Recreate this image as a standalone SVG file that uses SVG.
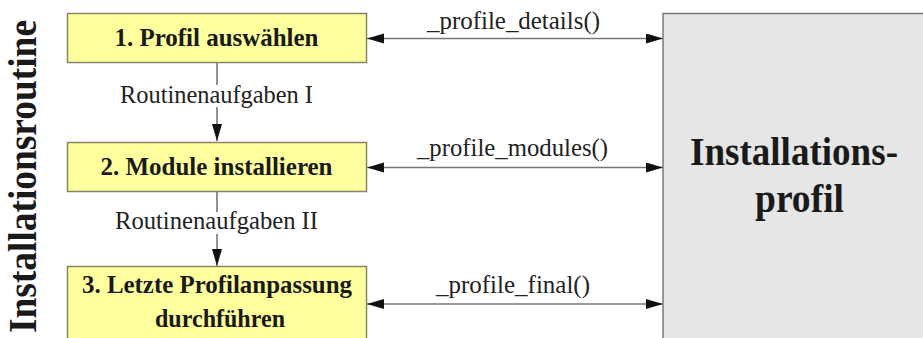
<svg xmlns="http://www.w3.org/2000/svg" width="923" height="338" viewBox="0 0 923 338">
<style>
.box{fill:#ffff9e;stroke:#85856a;stroke-width:1.5}
.prof{fill:#e6e6e6;stroke:#7a7a7a;stroke-width:1.5}
.bt{font-family:"Liberation Serif",serif;font-weight:bold;font-size:26px;fill:#1a1a1a;text-anchor:middle}
.lt{font-family:"Liberation Serif",serif;font-size:25px;fill:#222}
.big{font-family:"Liberation Serif",serif;font-weight:bold;font-size:39px;fill:#1a1a1a}
.ln{fill:none;stroke:#777;stroke-width:1.6}
</style>
<defs>
<marker id="ah" markerUnits="userSpaceOnUse" markerWidth="18" markerHeight="12" refX="17" refY="5" orient="auto-start-reverse">
<path d="M0,0 L17,5 L0,10 Z" fill="#111"/>
</marker>
</defs>
<text class="big" transform="translate(36,333) rotate(-90)" font-size="37" textLength="313" lengthAdjust="spacingAndGlyphs">Installationsroutine</text>
<g id="connectors">
<path class="ln" d="M217,63 V85"/>
<path class="ln" d="M217,107 V141" marker-end="url(#ah)"/>
<path class="ln" d="M217,192 V212"/>
<path class="ln" d="M217,234 V266" marker-end="url(#ah)"/>
<path class="ln" d="M367,38.5 H663" marker-start="url(#ah)" marker-end="url(#ah)"/>
<path class="ln" d="M367,167.5 H663" marker-start="url(#ah)" marker-end="url(#ah)"/>
<path class="ln" d="M367,304 H663" marker-start="url(#ah)" marker-end="url(#ah)"/>
<text class="lt" x="120" y="103" textLength="193" lengthAdjust="spacingAndGlyphs">Routinenaufgaben I</text>
<text class="lt" x="115" y="229" textLength="203" lengthAdjust="spacingAndGlyphs">Routinenaufgaben II</text>
<text class="lt" x="427" y="29" textLength="173" lengthAdjust="spacingAndGlyphs">_profile_details()</text>
<text class="lt" x="417" y="156" textLength="191" lengthAdjust="spacingAndGlyphs">_profile_modules()</text>
<text class="lt" x="436" y="293" textLength="154" lengthAdjust="spacingAndGlyphs">_profile_final()</text>
</g>
<g id="n1">
<rect class="box" x="67.5" y="13.5" width="299" height="49"/>
<text class="bt" x="216.5" y="46" textLength="204" lengthAdjust="spacingAndGlyphs">1. Profil auswählen</text>
</g>
<g id="n2">
<rect class="box" x="67.5" y="142.5" width="299" height="49"/>
<text class="bt" x="216.5" y="175" textLength="232" lengthAdjust="spacingAndGlyphs">2. Module installieren</text>
</g>
<g id="n3">
<rect class="box" x="67.5" y="266.5" width="299" height="100"/>
<text class="bt" x="217" y="293" textLength="270" lengthAdjust="spacingAndGlyphs">3. Letzte Profilanpassung</text>
<text class="bt" x="220" y="327" textLength="130" lengthAdjust="spacingAndGlyphs">durchführen</text>
</g>
<g id="profil">
<rect class="prof" x="663" y="13.5" width="280" height="340"/>
<text class="big" x="690" y="165" textLength="208" lengthAdjust="spacingAndGlyphs">Installations-</text>
<text class="big" x="755" y="212" textLength="89" lengthAdjust="spacingAndGlyphs">profil</text>
</g>
</svg>
